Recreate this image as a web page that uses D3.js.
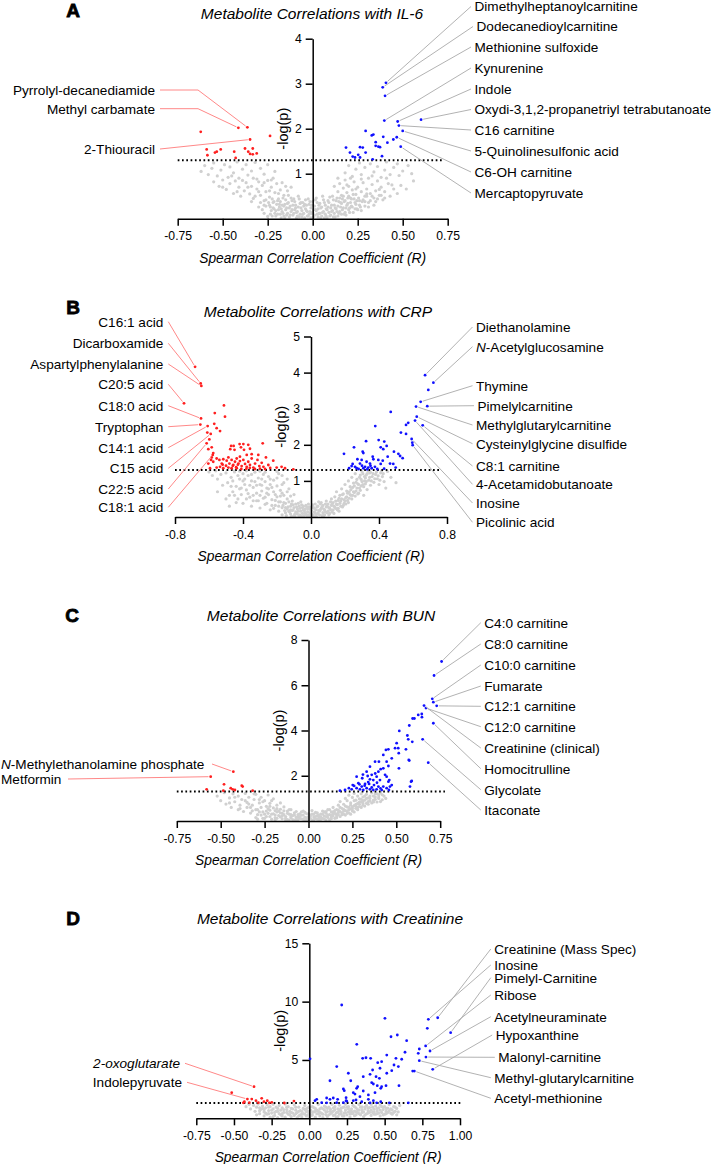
<!DOCTYPE html>
<html><head><meta charset="utf-8">
<script src="https://cdn.jsdelivr.net/npm/d3@7"></script>
<style>
html,body{margin:0;padding:0;background:#fff;}
svg{display:block;font-family:"Liberation Sans",Arial,sans-serif;}
</style></head><body>
<svg id="chart" width="716" height="1164"></svg>
<script>
// ---------------- DATA ----------------
const pThreshold = 0.05;
const titles = ["Metabolite Correlations with IL-6","Metabolite Correlations with CRP","Metabolite Correlations with BUN","Metabolite Correlations with Creatinine"];
const letters = ["A","B","C","D"];
const xAxisTitle = "Spearman Correlation Coefficient (R)";
const yAxisTitle = "-log(p)";

const xTicksA = [-0.75,-0.5,-0.25,0,0.25,0.5,0.75];
const xTickLabelsA = ["-0.75","-0.50","-0.25","0.00","0.25","0.50","0.75"];
const yTicksA = [1,2,3,4];
const xTicksB = [-0.8,-0.4,0,0.4,0.8];
const xTickLabelsB = ["-0.8","-0.4","0.0","0.4","0.8"];
const yTicksB = [1,2,3,4,5];
const xTicksC = [-0.75,-0.5,-0.25,0,0.25,0.5,0.75];
const xTickLabelsC = ["-0.75","-0.50","-0.25","0.00","0.25","0.50","0.75"];
const yTicksC = [2,4,6,8];
const xTicksD = [-0.75,-0.5,-0.25,0,0.25,0.5,0.75,1.0];
const xTickLabelsD = ["-0.75","-0.50","-0.25","0.00","0.25","0.50","0.75","1.00"];
const yTicksD = [5,10,15];

// ---- Panel A (IL-6) ----
const redA = [[-0.622,1.93],[-0.413,2.02],[-0.363,2.03],[-0.237,1.84],[-0.348,1.76],[-0.589,1.54],[-0.585,1.41],[-0.543,1.47],[-0.533,1.49],[-0.511,1.54],[-0.436,1.49],[-0.428,1.35],[-0.376,1.56],[-0.358,1.49],[-0.348,1.44],[-0.333,1.56],[-0.333,1.43],[-0.311,1.45]];
const blueA = [[0.407,3.02],[0.389,2.92],[0.402,2.73],[0.398,2.18],[0.472,2.16],[0.602,2.2],[0.479,2.07],[0.5,1.95],[0.294,1.95],[0.328,1.85],[0.337,1.87],[0.392,1.82],[0.467,1.81],[0.448,1.76],[0.415,1.69],[0.35,1.7],[0.35,1.62],[0.365,1.6],[0.374,1.59],[0.489,1.6],[0.185,1.58],[0.207,1.47],[0.222,1.38],[0.235,1.36],[0.253,1.42],[0.263,1.36],[0.263,1.59],[0.278,1.58],[0.294,1.47],[0.333,1.32],[0.385,1.39]];
const grayA = [[-0.62,1.05],[-0.60,1.18],[-0.58,0.98],[-0.56,1.12],[-0.55,1.24],[-0.53,0.95],[-0.51,1.08],[-0.49,1.2],[-0.47,0.92],[-0.46,1.15],[-0.44,1.02],[-0.42,1.26],[-0.41,0.9],[-0.39,1.1],[-0.37,1.2],[-0.36,0.97],[-0.34,1.06],[-0.32,1.25],[-0.31,0.88],[-0.29,1.12],[-0.27,0.99],[-0.25,1.2],[-0.23,0.86],[-0.21,1.05],
[-0.55,0.82],[-0.52,0.72],[-0.5,0.86],[-0.48,0.65],[-0.46,0.78],[-0.44,0.56],[-0.43,0.84],[-0.41,0.7],[-0.4,0.5],[-0.38,0.62],[-0.37,0.8],[-0.35,0.55],[-0.34,0.72],[-0.33,0.45],[-0.31,0.66],[-0.3,0.82],[-0.29,0.52],[-0.28,0.74],[-0.27,0.4],[-0.26,0.6],[-0.25,0.85],[-0.24,0.48],[-0.23,0.7],[-0.22,0.36],[-0.21,0.58],[-0.2,0.78],[-0.19,0.44],[-0.18,0.64],[-0.17,0.3],[-0.16,0.52],[-0.15,0.72],
[-0.24,0.3],[-0.23,0.18],[-0.22,0.24],[-0.21,0.12],[-0.2,0.32],[-0.19,0.2],[-0.18,0.1],[-0.18,0.38],[-0.17,0.16],[-0.16,0.28],[-0.16,0.06],[-0.15,0.2],[-0.15,0.42],[-0.14,0.12],[-0.14,0.34],[-0.13,0.04],[-0.13,0.24],[-0.12,0.16],[-0.12,0.46],[-0.11,0.3],[-0.11,0.08],[-0.1,0.2],[-0.1,0.38],[-0.09,0.02],[-0.09,0.14],[-0.08,0.26],[-0.08,0.5],[-0.07,0.1],[-0.07,0.34],[-0.06,0.18],[-0.06,0.04],[-0.05,0.28],[-0.05,0.12],[-0.04,0.42],[-0.04,0.22],[-0.03,0.06],[-0.03,0.16],[-0.02,0.32],[-0.02,0.1],[-0.01,0.24],[-0.01,0.02],[0,0.14],[0,0.38],[0.01,0.08],[0.01,0.28],[0.02,0.18],[0.02,0.46],[0.03,0.04],[0.03,0.22],[0.04,0.12],[0.04,0.34],[0.05,0.26],[0.05,0.06],[0.06,0.16],[0.06,0.42],[0.07,0.1],[0.07,0.3],[0.08,0.2],[0.08,0.02],[0.09,0.36],[0.09,0.14],[0.1,0.24],[0.1,0.08],[0.11,0.5],[0.11,0.18],[0.12,0.3],[0.12,0.12],[0.13,0.22],[0.13,0.4],[0.14,0.06],[0.14,0.28],[0.15,0.16],[0.15,0.46],[0.16,0.34],[0.16,0.1],[0.17,0.24],[0.18,0.4],[0.18,0.14],[0.19,0.3],[0.2,0.2],[0.2,0.5],[0.21,0.36],[0.22,0.26],[0.23,0.44],[0.24,0.32],[0.25,0.2],
[0.14,0.6],[0.15,0.78],[0.16,0.52],[0.17,0.68],[0.18,0.86],[0.19,0.58],[0.2,0.72],[0.21,0.46],[0.22,0.64],[0.23,0.82],[0.24,0.54],[0.25,0.7],[0.26,0.4],[0.27,0.6],[0.28,0.8],[0.29,0.5],[0.3,0.66],[0.31,0.36],[0.32,0.56],[0.33,0.76],[0.34,0.46],[0.35,0.62],[0.36,0.84],[0.37,0.52],[0.38,0.7],[0.39,0.42],[0.4,0.6],[0.42,0.78],[0.43,0.5],[0.45,0.66],[0.47,0.56],[0.49,0.74],[0.52,0.66],[0.56,0.84],
[0.18,1.02],[0.2,1.18],[0.22,0.94],[0.24,1.1],[0.26,1.24],[0.27,0.98],[0.29,1.14],[0.31,0.9],[0.32,1.22],[0.34,1.04],[0.36,1.16],[0.38,0.92],[0.4,1.08],[0.41,1.26],[0.43,0.98],[0.45,1.14],[0.47,1.22],[0.48,0.96],[0.5,1.06],[0.53,1.18],[0.55,1.0],
[-0.28,0.2],[-0.27,0.12],[-0.26,0.28],[-0.25,0.05],[-0.245,0.36],[-0.235,0.1],[-0.225,0.44],[-0.215,0.22],[-0.205,0.06],[-0.195,0.4],[-0.185,0.26],[-0.175,0.02],[-0.165,0.46],[-0.155,0.32],[-0.145,0.08],[-0.135,0.52],[-0.125,0.28],[-0.115,0.4],[-0.105,0.12],[-0.095,0.3],[-0.085,0.06],[-0.075,0.44],[-0.065,0.24],[-0.055,0.36],[-0.045,0.02],[-0.035,0.3],[-0.025,0.44],[-0.015,0.16],[-0.005,0.3],[0.005,0.04],[0.015,0.2],[0.025,0.36],[0.035,0.12],[0.045,0.24],[0.055,0.5],[0.065,0.02],[0.075,0.22],[0.085,0.4],[0.095,0.06],[0.105,0.3],[0.115,0.42],[0.125,0.04],[0.135,0.16],[0.145,0.38],[0.155,0.26],[0.165,0.44],[0.175,0.1],[0.185,0.24],[0.195,0.46],[0.205,0.14],[0.215,0.28],[0.225,0.54],[0.235,0.22],[0.245,0.4],[0.26,0.3],[0.27,0.18],[0.28,0.42],[0.29,0.28],[0.3,0.5],[0.32,0.4],[0.34,0.3],[0.36,0.44],
[-0.5,0.7],[-0.45,0.95],[-0.42,0.6],[-0.39,0.85],[-0.36,0.7],[-0.33,0.9],[-0.3,0.6],[-0.27,0.8],[-0.24,0.62],[-0.22,0.9],[-0.19,0.56],[-0.17,0.8],[-0.14,0.62],[-0.12,0.7],[0.12,0.72],[0.14,0.9],[0.17,0.5],[0.19,0.75],[0.21,0.9],[0.24,0.66],[0.27,0.88],[0.3,0.55],[0.33,0.95],[0.37,0.65],[0.41,0.9],[0.44,0.75],
[-0.235,0.26],[-0.225,0.06],[-0.215,0.38],[-0.205,0.18],[-0.195,0.1],[-0.185,0.32],[-0.175,0.22],[-0.165,0.12],[-0.155,0.02],[-0.145,0.24],[-0.135,0.36],[-0.125,0.08],[-0.115,0.2],[-0.105,0.44],[-0.095,0.24],[-0.085,0.16],[-0.075,0.04],[-0.065,0.36],[-0.055,0.1],[-0.045,0.32],[-0.035,0.18],[-0.025,0.06],[-0.015,0.38],[-0.005,0.12],[0.005,0.2],[0.015,0.42],[0.025,0.1],[0.035,0.3],[0.045,0.02],[0.055,0.14],[0.065,0.36],[0.075,0.06],[0.085,0.26],[0.095,0.48],[0.105,0.16],[0.115,0.04],[0.125,0.24],[0.135,0.46],[0.145,0.12],[0.155,0.36],[0.165,0.2],[0.175,0.38],[0.185,0.08],[0.195,0.34],[0.205,0.24],[0.215,0.44],[0.225,0.14],[0.235,0.36],[0.245,0.22],[0.255,0.46],[0.265,0.26],[0.275,0.38],[-0.26,0.42],[-0.27,0.3],[-0.29,0.36],[-0.3,0.26],[-0.32,0.5],[-0.34,0.38],[0.29,0.38],[0.31,0.26],[0.33,0.5],[0.35,0.38],[0.38,0.52],[0.4,0.46]];
const labelsARight = [["Dimethylheptanoylcarnitine",0.407,3.02],["Dodecanedioylcarnitine",0.389,2.92],["Methionine sulfoxide",0.402,2.73],["Kynurenine",0.398,2.18],["Indole",0.472,2.16],["Oxydi-3,1,2-propanetriyl tetrabutanoate",0.602,2.2],["C16 carnitine",0.479,2.07],["5-Quinolinesulfonic acid",0.5,1.95],["C6-OH carnitine",0.467,1.81],["Mercaptopyruvate",0.489,1.6]];
const labelsALeft = [["Pyrrolyl-decanediamide",-0.363,2.03],["Methyl carbamate",-0.413,2.02],["2-Thiouracil",-0.348,1.76]];

// ---- Panel B (CRP) ----
const redB = [[-0.682,4.16],[-0.649,3.70],[-0.645,3.63],[-0.747,3.15],[-0.512,3.09],[-0.566,2.88],[-0.647,2.73],[-0.506,2.78],[-0.651,2.56],[-0.608,2.52],[-0.569,2.58],[-0.555,2.46],[-0.535,2.38],[-0.61,2.34],[-0.59,2.30],[-0.598,2.15],[-0.614,2.04],[-0.584,1.93],[-0.604,1.88],[-0.578,1.72],[-0.584,1.65],
[-0.47,1.97],[-0.455,1.97],[-0.475,1.88],[-0.45,1.86],[-0.42,2.02],[-0.398,2.02],[-0.412,1.93],[-0.369,2.0],[-0.359,1.89],[-0.394,1.86],[-0.284,2.04],
[-0.588,1.58],[-0.604,1.48],[-0.575,1.53],[-0.555,1.62],[-0.539,1.58],[-0.525,1.48],[-0.516,1.60],[-0.496,1.56],[-0.486,1.65],[-0.48,1.48],[-0.467,1.58],[-0.457,1.44],[-0.447,1.53],[-0.437,1.62],[-0.427,1.48],[-0.418,1.55],[-0.408,1.41],[-0.398,1.58],[-0.388,1.47],[-0.378,1.39],[-0.369,1.53],[-0.359,1.44],[-0.349,1.62],[-0.339,1.37],[-0.329,1.48],[-0.315,1.58],[-0.304,1.41],[-0.29,1.50],[-0.28,1.39],[-0.265,1.65],[-0.251,1.44],[-0.222,1.56],[-0.202,1.37],[-0.173,1.39],[-0.153,1.35],[-0.104,1.32],[-0.535,1.39],[-0.516,1.35],[-0.486,1.37],[-0.467,1.35],[-0.437,1.35],[-0.555,1.37],[-0.594,1.35],[-0.418,1.67],[-0.378,1.72],[-0.349,1.74],[-0.31,1.72],[-0.575,1.77],
[-0.46,1.42],[-0.44,1.38],[-0.41,1.33],[-0.38,1.34],[-0.36,1.36],[-0.33,1.33],[-0.3,1.34],[-0.27,1.33],[-0.24,1.36],[-0.5,1.42],[-0.52,1.45],[-0.43,1.45]];
const blueB = [[0.671,3.93],[0.72,3.72],[0.69,3.52],[0.645,3.19],[0.618,3.06],[0.684,3.07],[0.622,2.78],[0.572,2.61],[0.559,2.55],[0.612,2.67],[0.657,2.54],[0.469,2.91],[0.529,2.34],[0.559,2.30],[0.592,2.16],[0.596,2.06],[0.598,1.99],[0.378,2.52],[0.324,2.10],[0.398,2.13],[0.431,2.09],[0.41,1.93],[0.445,1.97],[0.425,1.88],[0.253,1.93],[0.194,1.75],[0.304,1.81],[0.308,1.77],[0.488,1.81],[0.514,1.75],[0.524,1.69],[0.539,1.63],[0.451,1.67],
[0.363,1.67],[0.367,1.60],[0.396,1.58],[0.422,1.56],[0.347,1.48],[0.298,1.58],[0.273,1.60],[0.288,1.48],[0.318,1.39],[0.245,1.47],[0.259,1.39],[0.269,1.35],[0.224,1.35],[0.308,1.35],[0.337,1.37],[0.357,1.35],[0.376,1.39],[0.41,1.47],[0.465,1.48],[0.484,1.47],[0.498,1.37],[0.327,1.53],[0.239,1.41],
[0.28,1.33],[0.33,1.32],[0.39,1.33],[0.43,1.34],[0.3,1.42],[0.35,1.42]];
const grayB = [[-0.5,1.22],[-0.49,0.95],[-0.48,0.3],[-0.47,1.1],[-0.46,0.7],[-0.45,1.25],[-0.44,0.85],[-0.43,0.5],[-0.42,1.05],[-0.41,0.62],[-0.4,1.2],[-0.4,0.38],[-0.39,0.9],[-0.38,0.75],[-0.37,1.15],[-0.36,0.55],[-0.35,1.0],[-0.35,0.3],[-0.34,0.82],[-0.33,1.24],[-0.32,0.66],[-0.32,0.45],[-0.31,1.08],[-0.3,0.9],[-0.3,0.25],[-0.29,0.72],[-0.28,1.18],[-0.28,0.52],[-0.27,0.98],[-0.26,0.38],[-0.26,0.8],[-0.25,1.12],[-0.25,0.62],[-0.24,0.2],[-0.24,0.9],[-0.23,0.48],[-0.22,1.02],[-0.22,0.7],[-0.21,0.32],[-0.2,0.86],[-0.2,0.56],[-0.19,1.2],[-0.19,0.16],[-0.18,0.42],[-0.18,0.74],[-0.17,0.26],[-0.16,0.6],[-0.16,0.95],[-0.15,0.12],[-0.15,0.38],[-0.14,0.5],[-0.14,0.22],[-0.13,0.78],[-0.12,0.3],[-0.12,0.08],[-0.11,0.44],[-0.11,0.18],[-0.1,0.62],
[-0.6,1.25],[-0.58,1.15],[-0.56,1.28],[-0.55,1.05],[-0.53,1.18],[-0.52,0.88],
[-0.1,0.26],[-0.1,0.04],[-0.09,0.14],[-0.09,0.36],[-0.08,0.08],[-0.08,0.22],[-0.07,0.3],[-0.07,0.02],[-0.06,0.16],[-0.06,0.42],[-0.05,0.1],[-0.05,0.26],[-0.04,0.04],[-0.04,0.18],[-0.03,0.32],[-0.03,0.08],[-0.02,0.14],[-0.02,0.22],[-0.01,0.02],[-0.01,0.28],[0,0.1],[0,0.18],[0.01,0.06],[0.01,0.34],[0.02,0.14],[0.02,0.24],[0.03,0.02],[0.03,0.2],[0.04,0.1],[0.04,0.3],[0.05,0.16],[0.05,0.06],[0.06,0.24],[0.06,0.4],[0.07,0.12],[0.07,0.32],[0.08,0.2],[0.08,0.06],[0.09,0.28],[0.09,0.44],[0.1,0.16],[0.1,0.36],[0.11,0.24],[0.11,0.1],[0.12,0.32],[0.12,0.5],[0.13,0.2],[0.13,0.4],
[0.14,0.28],[0.14,0.56],[0.15,0.36],[0.15,0.7],[0.16,0.46],[0.16,0.24],[0.17,0.6],[0.17,0.38],[0.18,0.5],[0.18,0.78],[0.19,0.32],[0.19,0.64],[0.2,0.44],[0.2,0.9],[0.21,0.56],[0.21,0.72],[0.22,0.4],[0.22,1.0],[0.23,0.62],[0.23,0.84],[0.24,0.5],[0.24,1.1],[0.25,0.7],[0.25,0.94],[0.26,0.58],[0.26,1.2],[0.27,0.8],[0.27,1.04],[0.28,0.66],[0.28,0.9],[0.29,1.16],[0.29,0.74],[0.3,0.98],[0.3,1.26],[0.31,0.84],[0.31,0.6],[0.32,1.08],[0.32,0.92],[0.33,1.2],[0.33,0.76],[0.34,1.02],[0.35,0.88],[0.35,1.24],[0.36,1.12],[0.37,0.96],[0.38,1.18],[0.39,1.06],[0.4,0.9],[0.41,1.22],[0.42,1.12],[0.43,0.98],[0.45,1.26],[0.47,1.1],[0.5,0.95],[0.44,0.8],
[-0.45,1.28],[-0.42,1.27],[-0.38,1.28],[-0.3,1.27],[-0.27,1.24],[-0.2,1.26],[-0.17,1.15],[-0.14,1.05],
[-0.12,0.2],[-0.115,0.02],[-0.105,0.34],[-0.095,0.08],[-0.085,0.28],[-0.075,0.16],[-0.065,0.06],[-0.055,0.34],[-0.045,0.2],[-0.035,0.12],[-0.025,0.28],[-0.015,0.06],[-0.005,0.22],[0.005,0.28],[0.015,0.02],[0.025,0.1],[0.035,0.28],[0.045,0.18],[0.055,0.36],[0.065,0.04],[0.075,0.22],[0.085,0.36],[0.095,0.12],[0.105,0.26],[0.115,0.42],[0.125,0.14],[0.135,0.3],[0.145,0.44],[0.155,0.2],[0.165,0.52],[0.175,0.3],[0.185,0.62],[0.195,0.48],[0.205,0.36],[0.215,0.66],[0.225,0.52],[0.235,0.76],[0.245,0.6],[0.255,0.86],[0.265,0.72],[0.275,0.92],[0.285,0.8],[0.295,1.04],[0.305,0.9],[0.315,1.12],[0.325,0.98],[0.335,1.28],[0.345,1.1],[0.355,1.0],[0.365,1.2],[0.375,1.06],[0.385,1.25],[0.395,1.14],[0.405,1.02],[0.415,1.28],[0.425,1.2],
[-0.48,0.6],[-0.46,1.0],[-0.44,0.4],[-0.42,0.78],[-0.4,1.0],[-0.38,0.5],[-0.36,0.88],[-0.34,0.6],[-0.33,0.98],[-0.31,0.45],[-0.29,0.88],[-0.27,0.55],[-0.25,0.78],[-0.23,0.32],[-0.21,0.62],[-0.19,0.42],[-0.17,0.66],[-0.15,0.26],[-0.13,0.42],[-0.12,0.58],[-0.55,0.7],[-0.5,0.5],
[-0.17,0.06],[-0.165,0.32],[-0.155,0.18],[-0.145,0.04],[-0.135,0.28],[-0.125,0.14],[-0.115,0.36],[-0.105,0.2],[-0.095,0.02],[-0.085,0.12],[-0.075,0.38],[-0.065,0.24],[-0.055,0.02],[-0.045,0.3],[-0.035,0.22],[-0.025,0.04],[-0.015,0.36],[-0.005,0.12],[0.005,0.04],[0.015,0.26],[0.025,0.36],[0.035,0.08],[0.045,0.42],[0.055,0.2],[0.065,0.28],[0.075,0.04],[0.085,0.14],[0.095,0.3],[0.105,0.06],[0.115,0.2],[0.125,0.36],[0.135,0.1],[0.145,0.24],[0.155,0.34],[0.165,0.16],[0.175,0.44],[0.185,0.28],[0.195,0.38],[0.205,0.54],[0.215,0.46],[0.225,0.7],[0.235,0.6],[0.245,0.82],[0.255,0.68],[0.265,0.96],[0.275,0.64],[0.285,1.1],[0.295,0.86],[0.305,1.2],[0.315,1.0],[0.325,1.16],[0.345,1.22],
[-0.47,0.85],[-0.45,0.6],[-0.43,1.15],[-0.41,0.8],[-0.39,1.05],[-0.37,0.65],[-0.35,1.18],[-0.34,0.45],[-0.32,0.88],[-0.3,0.6],[-0.29,1.05],[-0.27,0.35],[-0.26,0.66],[-0.24,1.05],[-0.23,0.82],[-0.21,0.46],[-0.2,1.08],[-0.18,0.58],[-0.17,0.9],[-0.16,0.4],[-0.14,0.7],[-0.13,0.16],[-0.22,0.24],[-0.19,0.3]];
const labelsBRight = [["Diethanolamine",0.671,3.93],["N-Acetylglucosamine",0.72,3.72],["Thymine",0.645,3.19],["Pimelylcarnitine",0.684,3.07],["Methylglutarylcarnitine",0.618,3.06],["Cysteinylglycine disulfide",0.622,2.78],["C8:1 carnitine",0.657,2.54],["4-Acetamidobutanoate",0.612,2.67],["Inosine",0.592,2.16],["Picolinic acid",0.598,1.99]];
const labelsBLeft = [["C16:1 acid",-0.682,4.16],["Dicarboxamide",-0.649,3.70],["Aspartylphenylalanine",-0.645,3.63],["C20:5 acid",-0.747,3.15],["C18:0 acid",-0.647,2.73],["Tryptophan",-0.651,2.56],["C14:1 acid",-0.608,2.52],["C15 acid",-0.59,2.30],["C22:5 acid",-0.614,2.04],["C18:1 acid",-0.578,1.72]];

// ---- Panel C (BUN) ----
const redC = [[-0.428,2.18],[-0.557,1.96],[-0.481,1.62],[-0.58,1.40],[-0.443,1.45],[-0.432,1.40],[-0.38,1.56],[-0.375,1.52],[-0.318,1.34],[-0.485,1.34],[-0.419,1.37]];
const blueC = [[0.758,7.05],[0.715,6.43],[0.705,5.40],[0.711,5.25],[0.73,5.09],[0.658,5.10],[0.669,4.99],[0.645,4.73],[0.625,4.69],[0.646,4.59],[0.593,4.53],[0.603,4.53],[0.574,4.22],[0.711,4.32],[0.517,3.98],[0.563,3.78],[0.568,3.61],[0.591,3.50],[0.65,3.61],[0.502,3.44],[0.511,3.22],[0.493,3.22],[0.455,3.17],[0.441,3.14],[0.514,3.0],[0.555,3.17],[0.426,2.92],[0.474,2.77],[0.445,2.62],[0.401,2.62],[0.379,2.62],[0.35,2.40],[0.426,2.33],[0.455,2.43],[0.411,2.29],[0.515,2.33],[0.571,2.70],[0.682,2.58],[0.331,2.18],[0.398,2.18],[0.36,2.04],[0.337,1.99],[0.436,2.04],[0.274,1.96],[0.388,1.96],[0.445,1.96],[0.306,1.89],[0.35,1.84],[0.369,1.81],[0.407,1.81],[0.455,1.74],[0.252,1.59],[0.284,1.67],[0.322,1.64],[0.345,1.64],[0.373,1.59],[0.398,1.52],[0.426,1.52],[0.464,1.52],[0.474,1.59],[0.445,1.45],[0.303,1.52],[0.331,1.45],[0.274,1.45],[0.293,1.40],[0.35,1.40],[0.388,1.40],[0.312,1.37],[0.369,1.37],[0.417,1.37],[0.578,1.52],[0.584,1.74],[0.458,1.37],[0.208,1.37],[0.179,1.34],[0.246,1.40],[0.574,2.67],[0.588,1.77],[0.46,1.81],[0.23,1.45],[0.26,1.55],[0.32,1.56],[0.36,1.48],[0.41,1.44],[0.29,1.62],[0.34,1.72],[0.39,1.69],[0.31,2.05],[0.38,2.1]];
const grayC = [[-0.52,1.1],[-0.5,0.9],[-0.48,1.25],[-0.47,0.75],[-0.45,1.02],[-0.44,0.6],[-0.43,1.2],[-0.42,0.85],[-0.4,0.5],[-0.4,1.1],[-0.39,0.7],[-0.38,0.95],[-0.37,0.42],[-0.36,1.22],[-0.35,0.6],[-0.35,0.82],[-0.34,1.05],[-0.33,0.35],[-0.32,0.7],[-0.31,0.95],[-0.3,0.5],[-0.3,1.18],[-0.29,0.28],[-0.28,0.8],[-0.27,0.6],[-0.27,1.05],[-0.26,0.4],[-0.25,0.9],[-0.24,0.2],[-0.24,0.65],[-0.23,1.15],[-0.22,0.48],[-0.22,0.78],[-0.21,0.3],[-0.2,0.58],[-0.2,0.98],[-0.19,0.14],[-0.18,0.4],[-0.18,0.7],[-0.17,0.24],[-0.16,0.52],[-0.15,0.1],[-0.15,0.34],[-0.14,0.62],[-0.13,0.2],[-0.12,0.44],[-0.12,0.06],[-0.11,0.3],
[-0.1,0.14],[-0.1,0.5],[-0.09,0.24],[-0.08,0.04],[-0.08,0.36],[-0.07,0.16],[-0.06,0.28],[-0.06,0.06],[-0.05,0.2],[-0.04,0.4],[-0.04,0.1],[-0.03,0.26],[-0.02,0.02],[-0.02,0.16],[-0.01,0.32],[0,0.08],[0,0.2],[0.01,0.12],[0.02,0.3],[0.02,0.04],[0.03,0.18],[0.04,0.1],[0.04,0.38],[0.05,0.24],[0.06,0.06],[0.06,0.16],[0.07,0.3],[0.08,0.12],[0.08,0.44],[0.09,0.22],[0.1,0.04],[0.1,0.34],[0.11,0.16],[0.12,0.28],[0.12,0.5],[0.13,0.1],[0.13,0.4],
[0.14,0.22],[0.14,0.6],[0.15,0.34],[0.16,0.5],[0.16,0.14],[0.17,0.7],[0.17,0.28],[0.18,0.42],[0.18,0.86],[0.19,0.56],[0.2,0.3],[0.2,0.74],[0.21,1.0],[0.21,0.46],[0.22,0.62],[0.22,0.9],[0.23,0.36],[0.23,1.14],[0.24,0.54],[0.24,0.8],[0.25,1.04],[0.25,0.44],[0.26,0.68],[0.26,1.22],[0.27,0.92],[0.27,0.56],[0.28,0.78],[0.28,1.1],[0.29,0.64],[0.29,0.98],[0.3,1.2],[0.3,0.84],[0.31,0.7],[0.31,1.06],[0.32,0.92],[0.33,1.18],[0.33,0.78],[0.34,1.02],[0.35,0.88],[0.36,1.24],[0.37,1.1],[0.38,0.96],[0.39,1.2],[0.4,1.06],[0.42,1.16],[0.44,1.0],[0.41,0.86],
[-0.3,0.15],[-0.28,0.4],[-0.26,0.12],[-0.24,0.44],[-0.22,0.2],[-0.2,0.32],[-0.19,0.04],[-0.17,0.44],[-0.16,0.18],[-0.14,0.28],[-0.13,0.04],[-0.11,0.5],[-0.1,0.28],[-0.09,0.06],[-0.07,0.42],[-0.06,0.18],[-0.05,0.32],[-0.03,0.08],[-0.02,0.38],[-0.01,0.14],[0.01,0.26],[0.02,0.46],[0.03,0.06],[0.05,0.36],[0.06,0.26],[0.07,0.08],[0.09,0.4],[0.1,0.2],[0.11,0.5],[0.12,0.06],[0.13,0.26],[0.14,0.4],[0.15,0.12],[0.16,0.3],[0.17,0.48],[0.18,0.2],[0.19,0.36],[0.2,0.52],[0.21,0.26],[0.22,0.44],[0.23,0.6],[0.24,0.3],[0.25,0.62],[0.26,0.4],[0.27,0.74],[0.28,0.5],[0.29,0.84],[0.3,0.6],[0.31,0.9],[0.32,0.66],[0.33,1.0],[0.34,0.74],[0.35,1.1],[0.36,0.8],[0.37,0.92],[0.38,1.2],[0.39,0.84],[0.4,1.0],[0.41,1.24],[0.42,0.94],[0.43,1.1],[-0.45,0.8],[-0.42,1.05],[-0.39,0.55],[-0.36,0.9],[-0.33,0.6],[-0.31,1.2],[-0.29,0.5],[-0.26,0.85],[-0.23,0.55],[-0.21,0.9],[-0.18,0.55],[-0.16,0.8],[-0.14,0.45],
[-0.29,0.08],[-0.27,0.26],[-0.25,0.12],[-0.23,0.34],[-0.21,0.08],[-0.19,0.26],[-0.18,0.12],[-0.16,0.36],[-0.15,0.22],[-0.13,0.12],[-0.12,0.34],[-0.11,0.04],[-0.1,0.2],[-0.08,0.26],[-0.07,0.06],[-0.05,0.12],[-0.04,0.26],[-0.03,0.44],[-0.01,0.06],[0,0.32],[0.01,0.2],[0.03,0.3],[0.04,0.2],[0.05,0.08],[0.07,0.18],[0.08,0.3],[0.09,0.1],[0.1,0.42],[0.11,0.26],[0.13,0.18],[0.14,0.32],[0.15,0.46],[0.16,0.22],[0.17,0.38],[0.18,0.6],[0.19,0.28],[0.2,0.44],[0.21,0.66],[0.22,0.34],[0.23,0.5],[0.24,0.7],[0.25,0.54],[0.26,0.9],[0.27,0.66],[0.28,0.6],[0.29,0.74],[0.3,0.96],[0.31,0.8],[0.32,1.1],[0.34,0.86],[0.35,1.0],[0.37,0.84],[0.38,1.06],[0.4,1.16],[-0.34,0.75],[-0.32,0.45],[-0.28,0.95],[-0.25,0.3],[-0.22,0.65],[-0.19,0.46]];
const labelsCRight = [["C4:0 carnitine",0.758,7.05],["C8:0 carnitine",0.715,6.43],["C10:0 carnitine",0.705,5.40],["Fumarate",0.711,5.25],["C12:1 carnitine",0.73,5.09],["C12:0 carnitine",0.669,4.99],["Creatinine (clinical)",0.658,5.10],["Homocitrulline",0.711,4.32],["Glycolate",0.65,3.61],["Itaconate",0.682,2.58]];
const labelsCLeft = [["N-Methylethanolamine phosphate",-0.428,2.18],["Metformin",-0.557,1.96]];

// ---- Panel D (Creatinine) ----
const redD = [[-0.367,2.71],[-0.515,2.20],[-0.411,1.65],[-0.382,1.65],[-0.431,1.42],[-0.438,1.33],[-0.354,1.51],[-0.338,1.34],[-0.316,1.71],[-0.301,1.42],[-0.279,1.51],[-0.265,1.33],[-0.249,1.37],[-0.166,1.31],[-0.102,1.48],[-0.398,1.34]];
const blueD = [[0.215,9.71],[0.502,8.57],[0.79,8.48],[0.852,8.62],[0.783,7.71],[0.938,7.34],[0.542,6.99],[0.584,7.14],[0.646,6.65],[0.772,6.20],[0.315,6.34],[0.73,5.94],[0.801,5.77],[0.635,5.66],[0.723,5.57],[0.774,5.25],[0.73,4.94],[0.819,4.20],[0.686,4.05],[0.697,4.05],[0.514,5.42],[0.354,5.14],[0.376,5.19],[0.407,5.14],[0.454,4.77],[0.48,4.85],[0.575,5.14],[0.613,5.06],[0.562,4.57],[0.591,4.43],[0.469,4.29],[0.42,4.14],[0.182,4.43],[0.514,3.86],[0.547,4.08],[0.259,3.86],[0.403,3.77],[0.443,3.57],[0.465,3.43],[0.358,3.57],[0.137,3.22],[0.275,3.22],[0.414,3.05],[0.425,2.94],[0.451,2.80],[0.509,2.80],[0.595,2.80],[0.321,2.71],[0.226,2.51],[0.474,2.57],[0.314,2.57],[0.232,2.37],[0.292,2.20],[0.303,2.08],[0.358,2.34],[0.392,2.0],[0.436,2.20],[0.48,2.71],[0.336,1.85],[0.159,1.74],[0.188,1.63],[0.115,1.74],[0.137,1.63],[0.244,1.77],[0.244,1.51],[0.292,1.51],[0.348,1.42],[0.392,1.63],[0.425,1.51],[0.447,1.33],[0.474,1.42],[0.531,1.33],[0.657,1.33],[0.049,1.63],[0.038,1.51],[0.082,1.34],[0.115,1.33],[0.182,1.34],[0.226,1.34],[0.248,1.46],[0.31,1.57],[0.403,1.33],[0.005,5.1]];
const grayD = [[-0.42,1.0],[-0.4,1.2],[-0.39,0.8],[-0.37,1.1],[-0.36,0.6],[-0.35,0.95],[-0.34,1.22],[-0.33,0.4],[-0.32,0.78],[-0.31,1.05],[-0.3,0.55],[-0.3,0.2],[-0.29,0.9],[-0.28,1.18],[-0.28,0.35],[-0.27,0.66],[-0.26,1.0],[-0.26,0.1],[-0.25,0.45],[-0.24,0.8],[-0.24,1.2],[-0.23,0.25],[-0.22,0.6],[-0.22,0.95],[-0.21,0.05],[-0.2,0.4],[-0.2,1.1],[-0.19,0.7],[-0.18,0.2],[-0.18,0.9],[-0.17,0.5],[-0.16,1.22],[-0.16,0.1],[-0.15,0.75],[-0.14,0.35],[-0.14,1.0],[-0.13,0.6],[-0.12,0.15],[-0.12,0.85],[-0.11,0.45],[-0.1,1.15],[-0.1,0.25],[-0.09,0.7],[-0.08,0.05],[-0.08,0.5],[-0.07,0.95],[-0.06,0.3],[-0.06,0.65],[-0.05,0.12],[-0.04,0.85],[-0.04,0.4],[-0.03,1.1],[-0.02,0.2],[-0.02,0.58],[-0.01,0.9],[0,0.08],[0,0.42],
[0.01,0.7],[0.02,1.0],[0.02,0.28],[0.03,0.55],[0.04,0.1],[0.04,0.85],[0.05,0.38],[0.06,1.2],[0.06,0.62],[0.07,0.2],[0.08,0.9],[0.08,0.45],[0.09,0.05],[0.1,0.72],[0.1,1.05],[0.11,0.32],[0.12,0.58],[0.12,0.15],[0.13,0.95],[0.14,0.4],[0.14,0.78],[0.15,1.2],[0.16,0.25],[0.16,0.62],[0.17,1.0],[0.18,0.48],[0.18,0.1],[0.19,0.82],[0.2,0.35],[0.2,1.12],[0.21,0.6],[0.22,0.2],[0.22,0.92],[0.23,0.45],[0.24,0.72],[0.24,1.2],[0.25,0.3],[0.26,0.55],[0.26,1.0],[0.27,0.12],[0.28,0.8],[0.28,0.4],[0.29,1.1],[0.3,0.62],[0.3,0.22],[0.31,0.9],[0.32,0.48],[0.33,1.18],[0.33,0.7],[0.34,0.3],[0.35,0.98],[0.36,0.55],[0.36,0.15],[0.37,0.8],[0.38,1.1],[0.38,0.38],[0.39,0.65],[0.4,0.92],[0.41,0.25],[0.41,1.2],[0.42,0.5],[0.43,0.78],[0.44,1.05],[0.44,0.35],[0.45,0.62],[0.46,0.9],[0.47,0.2],[0.47,1.15],[0.48,0.5],[0.49,0.75],[0.5,1.0],[0.5,0.35],[0.51,0.6],[0.52,0.88],[0.53,1.18],[0.54,0.45],[0.55,0.72],[0.56,1.0],[0.57,0.6],[0.58,0.85],[0.6,1.1],
[-0.35,0.3],[-0.33,0.65],[-0.31,0.85],[-0.29,0.45],[-0.27,0.95],[-0.25,0.7],[-0.23,0.5],[-0.21,0.85],[-0.19,0.3],[-0.17,0.75],[-0.15,0.5],[-0.13,0.3],[-0.11,0.8],[-0.09,0.4],[-0.07,0.2],[-0.05,0.6],[-0.03,0.35],[-0.01,0.6],[0.01,0.25],[0.03,0.92],[0.05,0.7],[0.07,0.5],[0.09,0.82],[0.11,0.55],[0.13,0.3],[0.15,0.5],[0.17,0.3],[0.19,0.55],[0.21,0.85],[0.23,0.2],[0.25,0.95],[0.27,0.6],[0.29,0.42],[0.31,0.3],[0.32,0.75],[0.34,0.95],[0.35,0.5],[0.37,0.3],[0.39,0.9],[0.4,0.5],[0.42,0.95],[0.43,0.35],[0.45,0.85],[0.46,0.45],[0.48,1.0],[0.49,0.3],[0.51,0.85],[0.52,0.5],[0.54,0.8],[0.55,0.35],[0.57,0.95],[0.59,0.55],[-0.02,0.8],[0.0,0.95],[0.06,0.4],[0.11,0.95],[0.16,0.9],[0.2,0.7],[0.24,0.48],[0.28,0.6],
[-0.33,0.9],[-0.3,0.75],[-0.27,0.4],[-0.24,0.15],[-0.21,0.6],[-0.18,0.4],[-0.15,0.95],[-0.12,0.5],[-0.09,0.95],[-0.07,0.6],[-0.05,0.35],[-0.03,0.75],[-0.01,0.3],[0.02,0.5],[0.04,0.6],[0.07,0.8],[0.09,0.35],[0.12,0.85],[0.14,0.6],[0.17,0.75],[0.19,0.15],[0.21,0.4],[0.23,0.95],[0.26,0.8],[0.27,0.4],[0.3,1.0],[0.31,0.55],[0.33,0.4],[0.35,0.75],[0.37,0.95],[0.39,0.45],[0.41,0.7],[0.43,0.55],[0.45,0.4],[0.47,0.7],[0.49,0.95],[0.51,0.4],[0.53,0.65],[0.56,0.5],[0.58,0.3]];
const labelsDRight = [["Creatinine (Mass Spec)",0.852,8.62],["Inosine",0.79,8.48],["Pimelyl-Carnitine",0.938,7.34],["Ribose",0.772,6.20],["Acetylneuraminate",0.801,5.77],["Hypoxanthine",0.819,4.20],["Malonyl-carnitine",0.774,5.25],["Methyl-glutarylcarnitine",0.73,4.94],["Acetyl-methionine",0.697,4.05]];
const labelsDLeft = [["2-oxoglutarate",-0.367,2.71],["Indolepyruvate",-0.411,1.65]];
const italicLabels = ["2-oxoglutarate"];

// ---------------- LAYOUT ----------------
const panels = [
 {letter:0, xDom:[-0.75,0.75], xRange:[177.7,447.7], yDom:[0,4], yRange:[218.7,38.7], xTicks:xTicksA, xLabels:xTickLabelsA, yTicks:yTicksA,
  gray:grayA, red:redA, blue:blueA, thr:[-0.75,0.73], titleX:312, letterXY:[73,10],
  groups:[
   {labels:labelsARight, color:"#a9a9a9", anchor:"start", tx:[474.5,476.5,474.5,474.5,474.5,474.5,474.5,474.5,474.5,474.5], ys:[6.5,26.5,47,68,89,109.5,130,151,172,193], elbow:[]},
   {labels:labelsALeft, color:"#ff7b7b", anchor:"end", tx:[155,155,155], ys:[90,108.7,149], elbow:[198,198,null]}]},
 {letter:1, xDom:[-0.8,0.8], xRange:[175,447], yDom:[0,5], yRange:[517,336.5], xTicks:xTicksB, xLabels:xTickLabelsB, yTicks:yTicksB,
  gray:grayB, red:redB, blue:blueB, thr:[-0.8,0.766], titleX:318, letterXY:[73,306.7],
  groups:[
   {labels:labelsBRight, color:"#a9a9a9", anchor:"start", tx:[476,476,476,477.5,476,476,476,476,476,476], ys:[327,346.7,385.7,405.7,425,443.7,466,484.3,503,522.3], elbow:[]},
   {labels:labelsBLeft, color:"#ff7b7b", anchor:"end", tx:[163.3,163.3,163.3,163.3,163.3,163.3,163.3,163.3,163.3,163.3], ys:[321.7,343.3,364,384.3,405.7,426.7,447.7,468.3,489,507.3], elbow:[]}]},
 {letter:2, xDom:[-0.75,0.75], xRange:[176.8,440.2], yDom:[0,8], yRange:[821,640], xTicks:xTicksC, xLabels:xTickLabelsC, yTicks:yTicksC,
  gray:grayC, red:redC, blue:blueC, thr:[-0.75,0.777], titleX:321, letterXY:[72,615],
  groups:[
   {labels:labelsCRight, color:"#a9a9a9", anchor:"start", tx:[484.3,484.3,484.3,484.3,484.3,484.3,484.3,484.3,484.3,484.3], ys:[622.7,644,665,686,706.3,726.7,748,768.7,789.7,810], elbow:[]},
   {labels:labelsCLeft, color:"#ff7b7b", anchor:"start", tx:[1,1], ys:[764,779.5], lineStart:[[212,764],[68,779]], elbow:[]}]},
 {letter:3, xDom:[-0.75,1.0], xRange:[196.3,460], yDom:[0,15], yRange:[1118.3,943.3], xTicks:xTicksD, xLabels:xTickLabelsD, yTicks:yTicksD,
  gray:grayD, red:redD, blue:blueD, thr:[-0.75,1.01], titleX:330, letterXY:[73,918],
  groups:[
   {labels:labelsDRight, color:"#a9a9a9", anchor:"start", tx:[494.3,494.3,494.3,494.3,494.3,495.7,498.3,494.3,494.3], ys:[949,965,977.7,995,1016.7,1035,1057.3,1077.7,1098.3], elbow:[]},
   {labels:labelsDLeft, color:"#ff7b7b", anchor:"end", tx:[180,182], ys:[1063.3,1082.3], elbow:[]}]}
];

const svg = d3.select("#chart");
const FONT = '"Liberation Sans", Arial, sans-serif';

function writeLabel(sel, name){
  if (italicLabels.includes(name)) { sel.style("font-style","italic").text(name); }
  else if (name.startsWith("N-")) {
    sel.append("tspan").style("font-style","italic").text("N");
    sel.append("tspan").text(name.slice(1));
  } else sel.text(name);
}

panels.forEach(p => {
  const g = svg.append("g");
  const x = d3.scaleLinear().domain(p.xDom).range(p.xRange);
  const y = d3.scaleLinear().domain(p.yDom).range(p.yRange);
  const thrY = -Math.log10(pThreshold);

  // gray cloud
  g.append("g").selectAll("circle").data(p.gray).join("circle")
    .attr("cx", d=>x(d[0])).attr("cy", d=>y(d[1])).attr("r",1.6).attr("fill","#d0d0d0");

  // threshold
  g.append("line").attr("x1",x(p.thr[0])).attr("x2",x(p.thr[1]))
    .attr("y1",y(thrY)).attr("y2",y(thrY))
    .attr("stroke","#000").attr("stroke-width",2).attr("stroke-dasharray","1.7 2.6");

  // axes
  const xa = g.append("g").attr("transform",`translate(0,${y(0)})`)
    .call(d3.axisBottom(x).tickValues(p.xTicks).tickFormat((d,i)=>p.xLabels[i]).tickSize(7).tickSizeOuter(0).tickPadding(6));
  const ya = g.append("g").attr("transform",`translate(${x(0)},0)`)
    .call(d3.axisLeft(y).tickValues(p.yTicks).tickFormat(d=>String(d)).tickSize(7).tickSizeOuter(0).tickPadding(4));
  [xa,ya].forEach(a=>{
    a.attr("font-family",FONT).attr("font-size",12.2);
    a.selectAll("path,line").attr("stroke","#000").attr("stroke-width",1.5);
    a.selectAll("text").attr("fill","#000");
  });

  // colored points
  g.append("g").selectAll("circle").data(p.red).join("circle")
    .attr("cx", d=>x(d[0])).attr("cy", d=>y(d[1])).attr("r",1.4).attr("fill","#ff1f1f");
  g.append("g").selectAll("circle").data(p.blue).join("circle")
    .attr("cx", d=>x(d[0])).attr("cy", d=>y(d[1])).attr("r",1.4).attr("fill","#1010ff");

  // labels
  p.groups.forEach(grp => {
    grp.labels.forEach((lab,i) => {
      const tx = grp.tx[i], ty = grp.ys[i];
      const px = x(lab[1]), py = y(lab[2]);
      let sx, sy;
      if (grp.lineStart) { sx = grp.lineStart[i][0]; sy = grp.lineStart[i][1]; }
      else { sx = grp.anchor==="start" ? tx-3.5 : tx+5; sy = ty; }
      const pts = [[sx,sy]];
      const ex = grp.elbow[i];
      if (ex != null) pts.push([ex,sy]);
      const last = pts[pts.length-1];
      const dx = px-last[0], dy = py-last[1], len = Math.hypot(dx,dy);
      pts.push([px - dx/len*2.2, py - dy/len*2.2]);
      g.append("path").attr("d", d3.line()(pts)).attr("fill","none")
        .attr("stroke",grp.color).attr("stroke-width",0.9);
      const t = g.append("text").attr("x",tx).attr("y",ty).attr("dy","0.36em")
        .attr("text-anchor",grp.anchor).attr("font-size",13.6).attr("fill","#000");
      writeLabel(t, lab[0]);
    });
  });

  // titles
  const top = p.yRange[1];
  g.append("text").attr("x",p.titleX).attr("y",top-25).attr("dy","0.36em")
    .attr("text-anchor","middle").attr("font-size",15.5).attr("font-style","italic").text(titles[p.letter]);
  g.append("text").attr("x",p.letterXY[0]).attr("y",p.letterXY[1]).attr("dy","0.36em")
    .attr("text-anchor","middle").attr("font-size",19).attr("font-weight","bold")
    .attr("stroke","#000").attr("stroke-width",0.8).text(letters[p.letter]);
  g.append("text").attr("x",(p.xRange[0]+p.xRange[1])/2).attr("y",y(0)+39).attr("dy","0.36em")
    .attr("text-anchor","middle").attr("font-size",13.8).attr("font-style","italic").text(xAxisTitle);
  const ylx = x(0)-30, yly = (p.yRange[0]+p.yRange[1])/2;
  g.append("text").attr("transform",`translate(${ylx},${yly}) rotate(-90)`).attr("dy","0.36em")
    .attr("text-anchor","middle").attr("font-size",14.5).text(yAxisTitle);
});
</script>
</body></html>
